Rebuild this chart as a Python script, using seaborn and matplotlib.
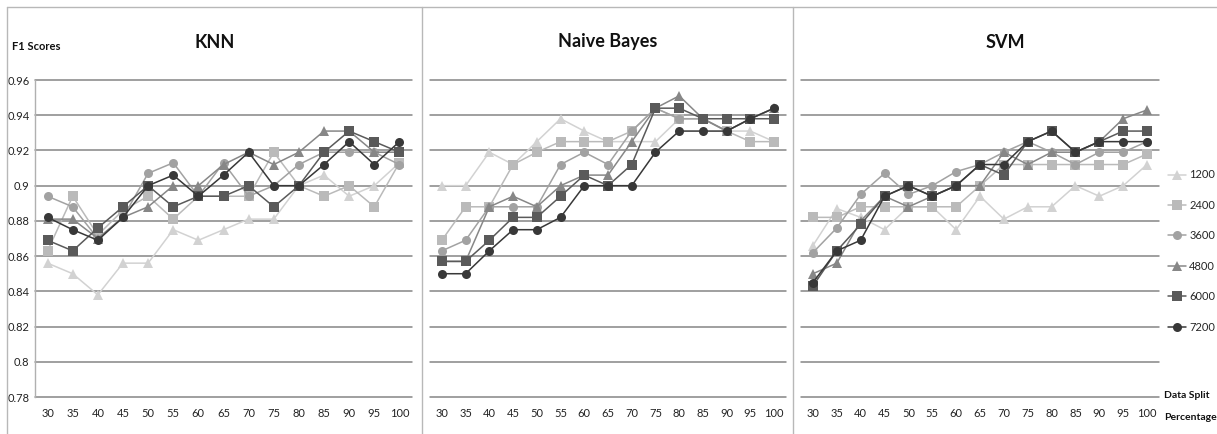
import matplotlib
matplotlib.use("Agg")
import matplotlib.pyplot as plt
from matplotlib.lines import Line2D
import pandas as pd
import seaborn as sns

# ---- data -----------------------------------------------------------------
split = [30, 35, 40, 45, 50, 55, 60, 65, 70, 75, 80, 85, 90, 95, 100]
sizes = ["1200", "2400", "3600", "4800", "6000", "7200"]

knn_1200 = [0.856, 0.850, 0.838, 0.856, 0.856, 0.875, 0.869, 0.875, 0.881, 0.881, 0.900, 0.906, 0.894, 0.900, 0.913]
knn_2400 = [0.863, 0.894, 0.872, 0.886, 0.894, 0.881, 0.894, 0.894, 0.894, 0.919, 0.900, 0.894, 0.900, 0.888, 0.913]
knn_3600 = [0.894, 0.888, 0.870, 0.882, 0.907, 0.913, 0.894, 0.913, 0.894, 0.900, 0.912, 0.919, 0.919, 0.919, 0.912]
knn_4800 = [0.881, 0.881, 0.870, 0.882, 0.888, 0.900, 0.900, 0.912, 0.919, 0.912, 0.919, 0.931, 0.931, 0.919, 0.919]
knn_6000 = [0.869, 0.863, 0.876, 0.888, 0.900, 0.888, 0.894, 0.894, 0.900, 0.888, 0.900, 0.919, 0.931, 0.925, 0.919]
knn_7200 = [0.882, 0.875, 0.869, 0.882, 0.900, 0.906, 0.894, 0.906, 0.919, 0.900, 0.900, 0.912, 0.925, 0.912, 0.925]

nb_1200 = [0.900, 0.900, 0.919, 0.912, 0.925, 0.938, 0.931, 0.925, 0.925, 0.925, 0.938, 0.938, 0.931, 0.931, 0.925]
nb_2400 = [0.869, 0.888, 0.888, 0.912, 0.919, 0.925, 0.925, 0.925, 0.931, 0.944, 0.938, 0.938, 0.931, 0.925, 0.925]
nb_3600 = [0.863, 0.869, 0.888, 0.888, 0.888, 0.912, 0.919, 0.912, 0.931, 0.944, 0.938, 0.938, 0.931, 0.938, 0.944]
nb_4800 = [0.857, 0.857, 0.888, 0.894, 0.888, 0.900, 0.906, 0.906, 0.925, 0.944, 0.951, 0.938, 0.931, 0.938, 0.944]
nb_6000 = [0.857, 0.857, 0.869, 0.882, 0.882, 0.894, 0.906, 0.900, 0.912, 0.944, 0.944, 0.938, 0.938, 0.938, 0.938]
nb_7200 = [0.850, 0.850, 0.863, 0.875, 0.875, 0.882, 0.900, 0.900, 0.900, 0.919, 0.931, 0.931, 0.931, 0.938, 0.944]

svm_1200 = [0.866, 0.887, 0.882, 0.875, 0.888, 0.888, 0.875, 0.894, 0.881, 0.888, 0.888, 0.900, 0.894, 0.900, 0.912]
svm_2400 = [0.882, 0.882, 0.888, 0.888, 0.888, 0.888, 0.888, 0.900, 0.912, 0.912, 0.912, 0.912, 0.912, 0.912, 0.918]
svm_3600 = [0.862, 0.876, 0.895, 0.907, 0.895, 0.900, 0.908, 0.912, 0.919, 0.925, 0.919, 0.912, 0.919, 0.919, 0.925]
svm_4800 = [0.850, 0.856, 0.880, 0.894, 0.888, 0.894, 0.900, 0.900, 0.919, 0.912, 0.919, 0.919, 0.925, 0.938, 0.943]
svm_6000 = [0.843, 0.863, 0.878, 0.894, 0.900, 0.894, 0.900, 0.912, 0.906, 0.925, 0.931, 0.919, 0.925, 0.931, 0.931]
svm_7200 = [0.845, 0.863, 0.869, 0.894, 0.900, 0.894, 0.900, 0.912, 0.912, 0.925, 0.931, 0.919, 0.925, 0.925, 0.925]

y_ticks = [0.78, 0.80, 0.82, 0.84, 0.86, 0.88, 0.90, 0.92, 0.94, 0.96]

panels = {
    "KNN": [knn_1200, knn_2400, knn_3600, knn_4800, knn_6000, knn_7200],
    "Naive Bayes": [nb_1200, nb_2400, nb_3600, nb_4800, nb_6000, nb_7200],
    "SVM": [svm_1200, svm_2400, svm_3600, svm_4800, svm_6000, svm_7200],
}

# ---- style ----------------------------------------------------------------
sns.set_style("white")
plt.rcParams["font.family"] = ["Lato", "DejaVu Sans"]

palette = {"1200": "#d2d2d2", "2400": "#bababa", "3600": "#a2a2a2",
           "4800": "#878787", "6000": "#5a5a5a", "7200": "#383838"}
markers = {"1200": "^", "2400": "s", "3600": "o",
           "4800": "^", "6000": "s", "7200": "o"}
grid_color = "#858585"

W, H = 1217, 434
fig = plt.figure(figsize=(W / 100, H / 100), dpi=100)

# axes boxes in pixels: (left, right)
boxes = {"KNN": (35, 412), "Naive Bayes": (430, 786), "SVM": (801, 1159)}
top_px, bottom_px = 80, 397
title_x = {"KNN": 215, "Naive Bayes": 608, "SVM": 1005}

axes = {}
for name, series in panels.items():
    l, r = boxes[name]
    ax = fig.add_axes([l / W, 1 - bottom_px / H, (r - l) / W, (bottom_px - top_px) / H])
    axes[name] = ax
    df = pd.DataFrame({
        "split": split * len(sizes),
        "f1": [v for s in series for v in s],
        "size": [sz for sz in sizes for _ in split],
    })
    for yv in y_ticks:
        ax.axhline(yv, color=grid_color, lw=1.1, zorder=0, clip_on=False)
    sns.lineplot(data=df, x="split", y="f1", hue="size", style="size",
                 hue_order=sizes, style_order=sizes, palette=palette,
                 markers=markers, dashes=False, markersize=6.5,
                 markeredgewidth=0, linewidth=1.1, ax=ax,
                 legend=(name == "SVM"), zorder=3)
    ax.set_xlim(27.5, 102.5)
    ax.set_ylim(0.78, 0.96)
    ax.set_xticks(split)
    ax.set_xticklabels([str(s) for s in split], fontsize=8, color="#222222")
    ax.set_xlabel("")
    ax.set_ylabel("")
    ax.set_yticks(y_ticks)
    ax.tick_params(axis="both", length=0)
    ax.tick_params(axis="x", pad=8)
    for sp in ax.spines.values():
        sp.set_visible(False)
    if name == "KNN":
        ax.set_yticklabels([f"{v:g}" for v in y_ticks], fontsize=8, color="#222222")
        ax.tick_params(axis="y", pad=4)
        ax.spines["left"].set_visible(True)
        ax.spines["left"].set_color("#b0b0b0")
        ax.spines["left"].set_linewidth(1.0)
    else:
        ax.tick_params(axis="y", labelleft=False)
    ax.patch.set_alpha(0)
    fig.text(title_x[name] / W, 1 - 42 / H, name, ha="center", va="center",
             fontsize=13, fontweight="bold", color="#111111")

# legend on the right, built from the SVM series
ax_svm = axes["SVM"]
handles, labels = ax_svm.get_legend_handles_labels()
ax_svm.get_legend().remove()
fig.legend(handles, labels, loc="center left",
           bbox_to_anchor=(1168 / W, 1 - 251 / H), frameon=False,
           fontsize=8, labelspacing=1.75, handlelength=1.6,
           handletextpad=0.3, borderpad=0, borderaxespad=0)

# axis captions
fig.text(12 / W, 1 - 46 / H, "F1 Scores", ha="left", va="center",
         fontsize=8, fontweight="bold", color="#111111")
fig.text(1164 / W, 1 - 395 / H, "Data Split", ha="left", va="center",
         fontsize=7.5, fontweight="bold", color="#111111")
fig.text(1164 / W, 1 - 418 / H, "Percentage", ha="left", va="center",
         fontsize=7.5, fontweight="bold", color="#111111")

# panel frame and separators
frame_c = "#b8b8b8"
fig.add_artist(Line2D([7 / W, 1], [1 - 7 / H, 1 - 7 / H], color=frame_c, lw=1.0,
                      transform=fig.transFigure))
fig.add_artist(Line2D([7 / W, 7 / W], [0, 1 - 7 / H], color=frame_c, lw=1.0,
                      transform=fig.transFigure))
for xs in (421.5, 792.5):
    fig.add_artist(Line2D([xs / W, xs / W], [0, 1 - 7 / H], color=frame_c, lw=1.0,
                          transform=fig.transFigure))

fig.savefig("out.png", dpi=100, facecolor="white")
